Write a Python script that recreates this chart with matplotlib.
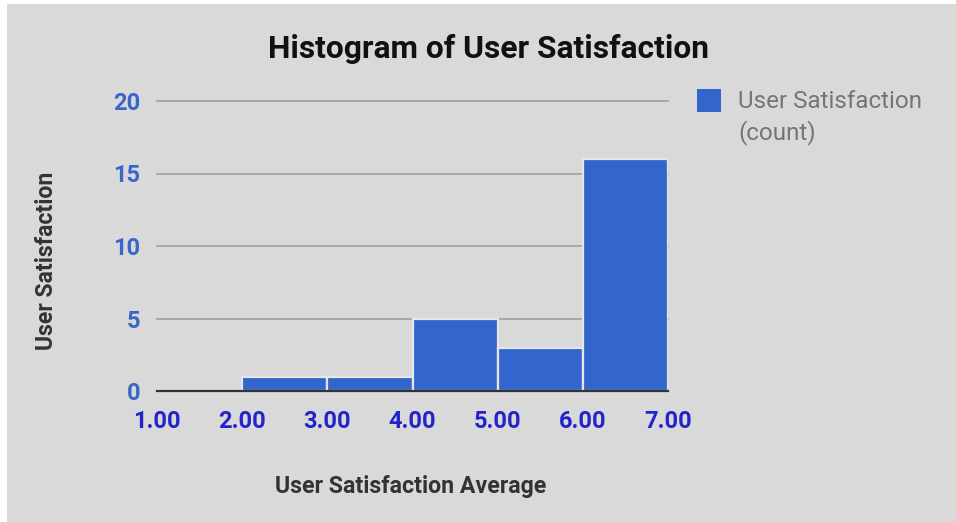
import matplotlib
matplotlib.use("Agg")
import matplotlib.pyplot as plt
from matplotlib.patches import Rectangle

bin_edges = [1.0, 2.0, 3.0, 4.0, 5.0, 6.0, 7.0]
counts = [0, 1, 1, 5, 3, 16]
x_tick_labels = ["1.00", "2.00", "3.00", "4.00", "5.00", "6.00", "7.00"]
y_ticks = [0, 5, 10, 15, 20]

plt.rcParams['font.family'] = ['Roboto', 'DejaVu Sans']

W, H = 956, 522
fig = plt.figure(figsize=(W / 100, H / 100), dpi=100, facecolor='white')
fig.patches.append(Rectangle((7 / W, 0), 1 - 7 / W, 1 - 4 / H, transform=fig.transFigure,
                             facecolor='#d9d9d9', edgecolor='none', zorder=-10))

ax = fig.add_axes([157 / W, 1 - 391 / H, (668 - 157) / W, (391 - 101) / H])
ax.set_facecolor('none')

lefts = bin_edges[:-1]
widths = [b - a for a, b in zip(bin_edges[:-1], bin_edges[1:])]
ax.bar(lefts, counts, width=widths, align='edge', color='#3366cc',
       edgecolor='#e6e6e6', linewidth=1.6, zorder=3)

ax.set_xlim(bin_edges[0], bin_edges[-1])
ax.set_ylim(0, 20)
for y in y_ticks[1:]:
    ax.axhline(y, color='#9a9a9a', linewidth=1.1, zorder=1, clip_on=False)
ax.axhline(0, color='#333333', linewidth=1.6, zorder=4, clip_on=False)

for s in ax.spines.values():
    s.set_visible(False)

ax.set_xticks(bin_edges)
ax.set_xticklabels(x_tick_labels, fontsize=17, fontweight='bold', color='#2323cc')
ax.set_yticks(y_ticks)
ax.set_yticklabels([str(v) for v in y_ticks], fontsize=17, fontweight='bold', color='#3a66c8')
ax.tick_params(axis='x', length=0, pad=14)
ax.tick_params(axis='y', length=0, pad=12)

fig.text(489 / W, 1 - 58 / H, "Histogram of User Satisfaction", ha='center', va='baseline',
         fontsize=22.9, fontweight='bold', color='#111111')
fig.text(411 / W, 1 - 493 / H, "User Satisfaction Average", ha='center', va='baseline',
         fontsize=16.7, fontweight='bold', color='#333333')
fig.text(47 / W, 1 - 261 / H, "User Satisfaction", ha='center', va='center', rotation=90,
         fontsize=16.6, fontweight='bold', color='#333333')

# legend
fig.patches.append(Rectangle((697 / W, 1 - 112 / H), 24 / W, 23 / H, transform=fig.transFigure,
                             facecolor='#3366cc', edgecolor='none'))
fig.text(738 / W, 1 - 108 / H, "User Satisfaction", ha='left', va='baseline',
         fontsize=17.4, color='#757575')
fig.text(738 / W, 1 - 139 / H, "(count)", ha='left', va='baseline',
         fontsize=17.4, color='#757575')

fig.savefig("out.png", dpi=100, facecolor='white')
